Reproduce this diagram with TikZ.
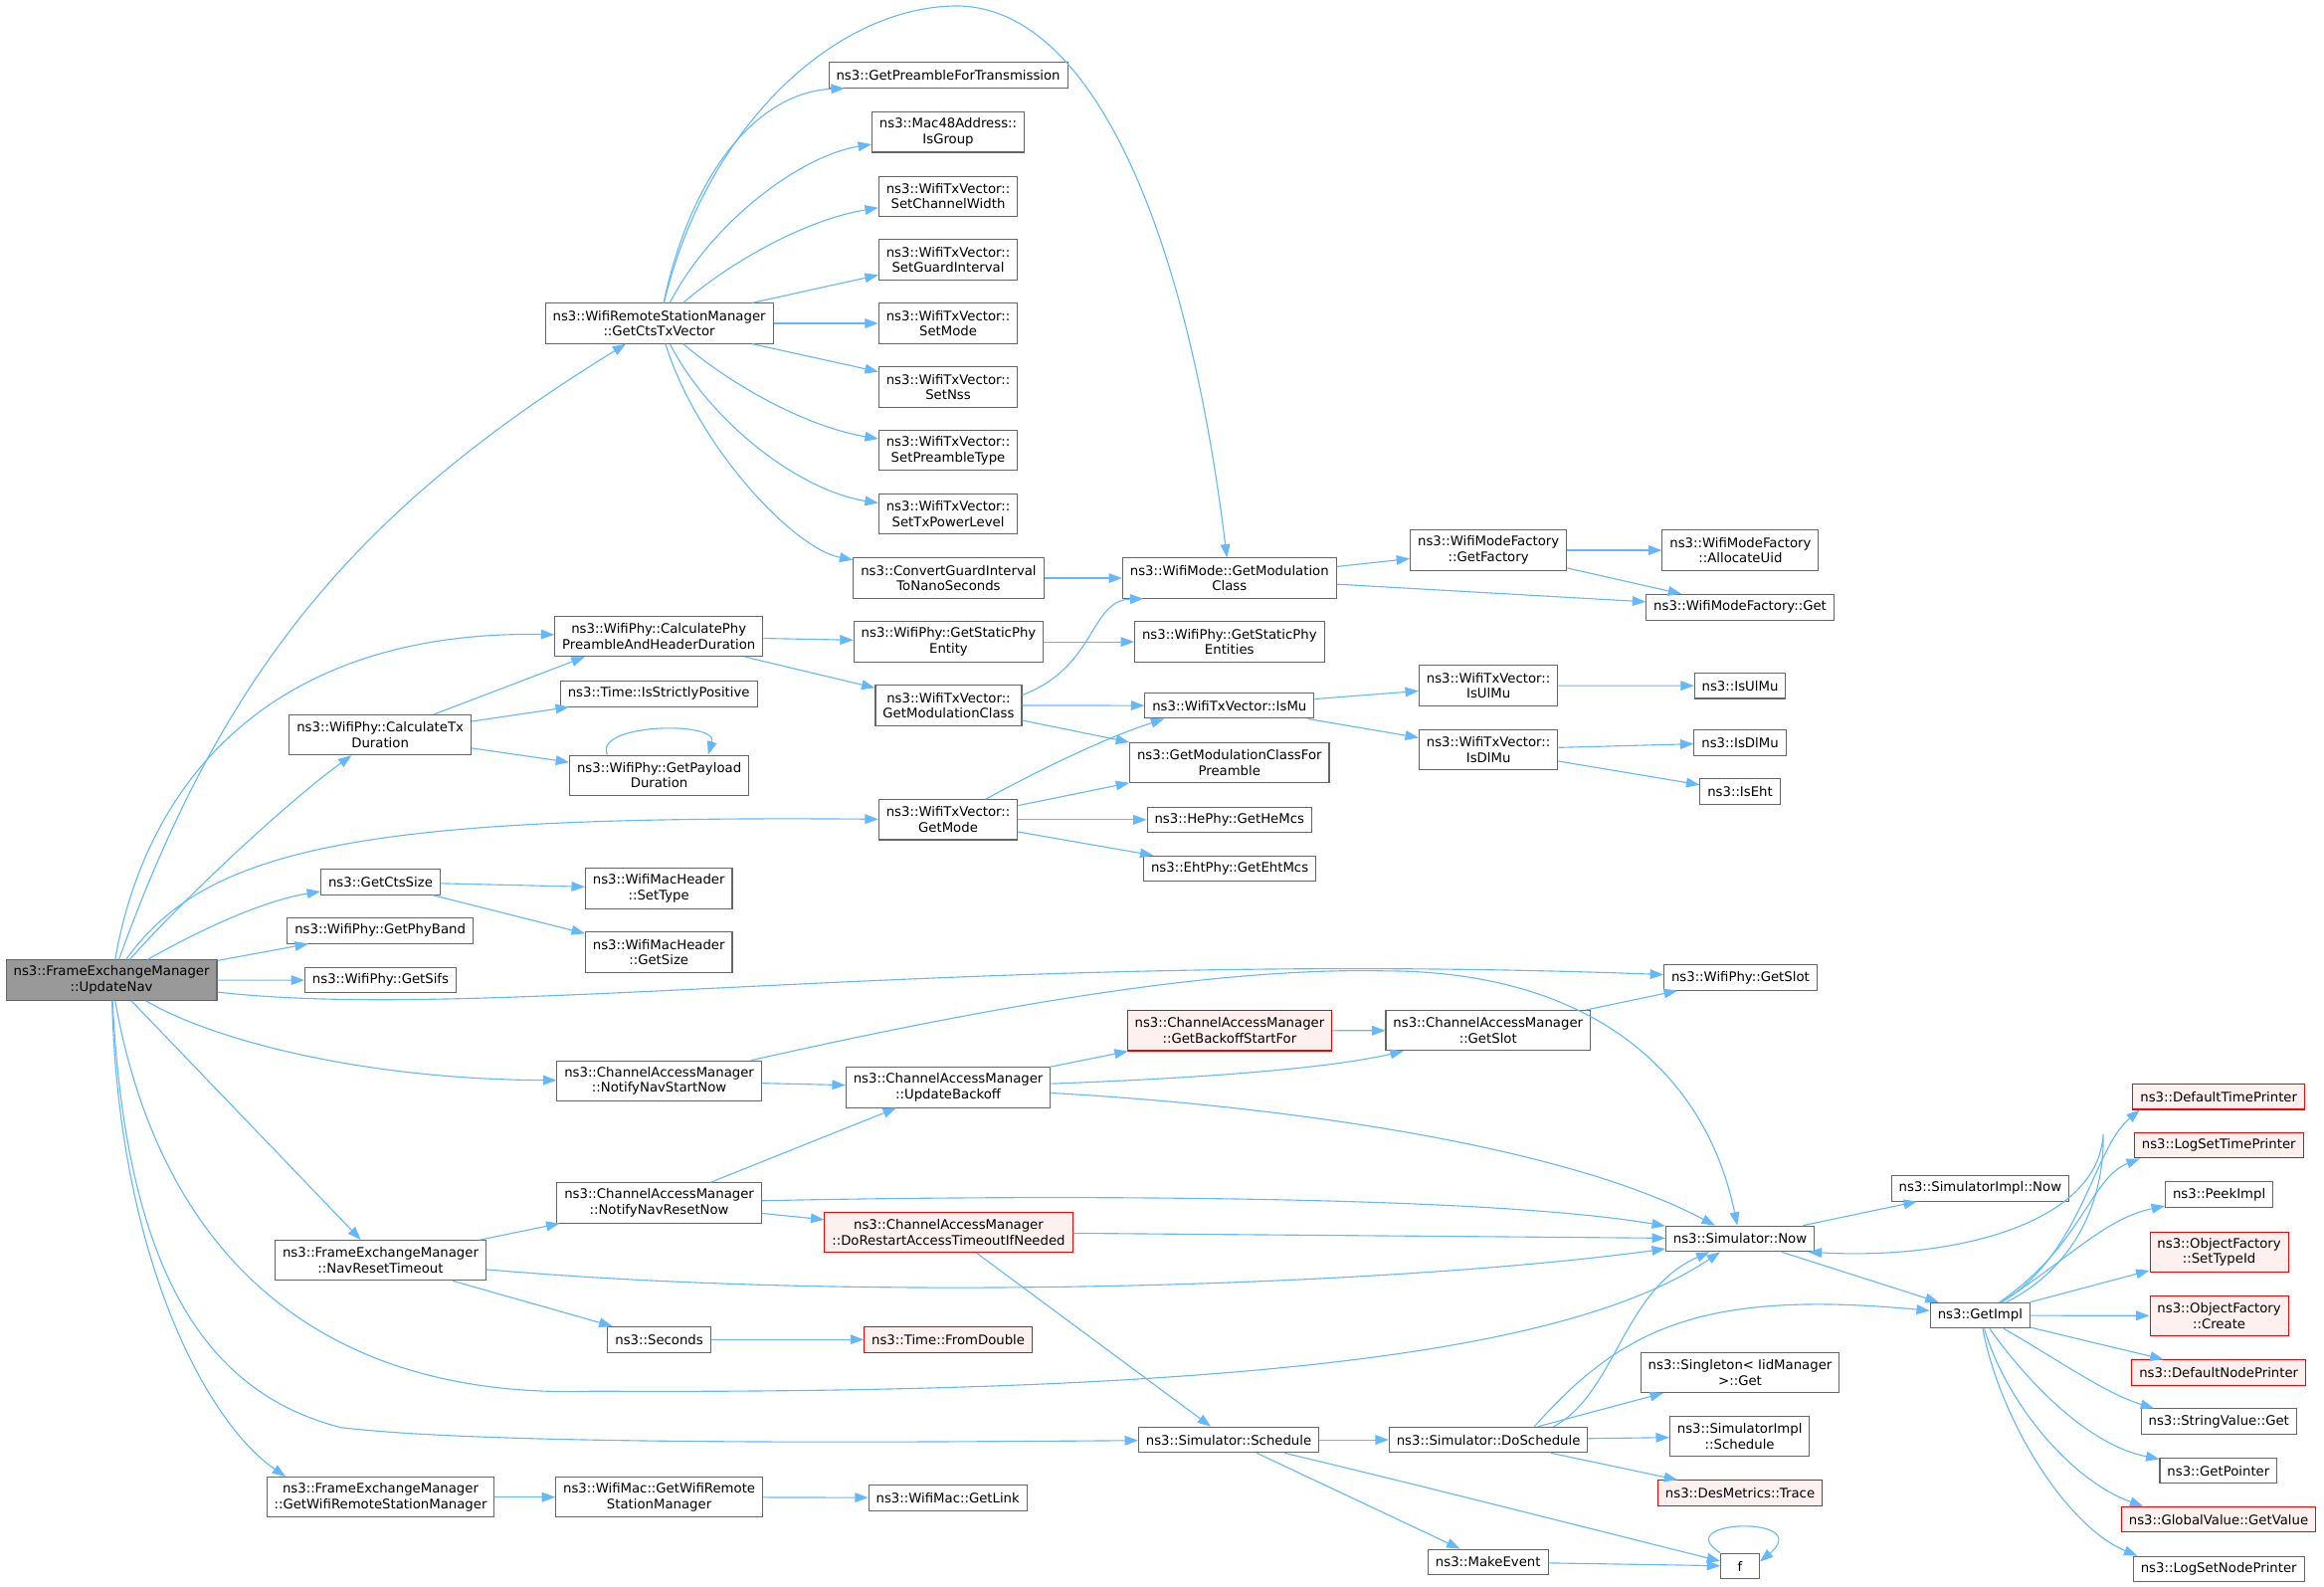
\documentclass[tikz,border=0pt]{standalone}
\usepackage{fontspec}
\setmainfont{DejaVu Sans}
\usepackage{tikz}
\usetikzlibrary{arrows.meta}
\definecolor{edgeblue}{HTML}{63B8FF}
\definecolor{boxgray}{HTML}{666666}
\definecolor{rootfill}{HTML}{999999}
\definecolor{extred}{HTML}{FF0000}
\definecolor{extfill}{HTML}{FFF0F0}

\begin{document}
\begin{tikzpicture}[x=1pt,y=-1pt,font=\fontsize{8.9}{10.5}\selectfont]
			\tikzstyle{FuncStyle} = [shape=rectangle, draw=boxgray, line width=0.7pt, fill=white, align=center, inner xsep=5pt, inner ysep=2pt, minimum height=17.2pt]
			\tikzstyle{TwoLine}   = [minimum height=27pt]
			\tikzstyle{RootStyle} = [FuncStyle, fill=rootfill]
			\tikzstyle{ExtStyle}  = [FuncStyle, draw=extred, fill=extfill]
			\tikzstyle{EdgeStyle} = [->, >={Triangle[length=9pt,width=6.5pt]}, color=edgeblue, line width=0.75pt]
			\useasboundingbox (0,0) rectangle (1568,1070.6);
			% caller
			\node[RootStyle,TwoLine] (un) at (75.25,661.2) {ns3::FrameExchangeManager\\::UpdateNav};
			% second column
			\node[FuncStyle,TwoLine] (ctx) at (256.5,495.75) {ns3::WifiPhy::CalculateTx\\Duration};
			\node[FuncStyle] (gcs) at (256.75,595) {ns3::GetCtsSize};
			\node[FuncStyle] (gpb) at (256.5,627.75) {ns3::WifiPhy::GetPhyBand};
			\node[FuncStyle] (gsf) at (256.75,661.25) {ns3::WifiPhy::GetSifs};
			\node[FuncStyle,TwoLine] (nrt) at (256.75,850.25) {ns3::FrameExchangeManager\\::NavResetTimeout};
			\node[FuncStyle,TwoLine] (gwrsm) at (256.75,1010) {ns3::FrameExchangeManager\\::GetWifiRemoteStationManager};
			% third column
			\node[FuncStyle,TwoLine] (cts) at (444.75,218.15) {ns3::WifiRemoteStationManager\\::GetCtsTxVector};
			\node[FuncStyle,TwoLine] (cpp) at (444.5,429.3) {ns3::WifiPhy::CalculatePhy\\PreambleAndHeaderDuration};
			\node[FuncStyle] (isp) at (444.5,468) {ns3::Time::IsStrictlyPositive};
			\node[FuncStyle,TwoLine] (gpd) at (444.75,523) {ns3::WifiPhy::GetPayload\\Duration};
			\node[FuncStyle,TwoLine] (st) at (444.5,599.4) {ns3::WifiMacHeader\\::SetType};
			\node[FuncStyle,TwoLine] (gsz) at (444.5,642.3) {ns3::WifiMacHeader\\::GetSize};
			\node[FuncStyle,TwoLine] (nns) at (444.75,729.15) {ns3::ChannelAccessManager\\::NotifyNavStartNow};
			\node[FuncStyle,TwoLine] (nnr) at (444.75,811.5) {ns3::ChannelAccessManager\\::NotifyNavResetNow};
			\node[FuncStyle] (sec) at (444.75,903.65) {ns3::Seconds};
			\node[FuncStyle,TwoLine] (mgw) at (444.75,1010) {ns3::WifiMac::GetWifiRemote\\StationManager};
			% fourth column
			\node[FuncStyle] (gpt) at (639.75,50.65) {ns3::GetPreambleForTransmission};
			\node[FuncStyle,TwoLine] (ig) at (639.7,89.2) {ns3::Mac48Address::\\IsGroup};
			\node[FuncStyle,TwoLine] (scw) at (639.7,132.35) {ns3::WifiTxVector::\\SetChannelWidth};
			\node[FuncStyle,TwoLine] (sgi) at (639.7,175.15) {ns3::WifiTxVector::\\SetGuardInterval};
			\node[FuncStyle,TwoLine] (sm) at (639.7,218.15) {ns3::WifiTxVector::\\SetMode};
			\node[FuncStyle,TwoLine] (sn) at (639.7,261.15) {ns3::WifiTxVector::\\SetNss};
			\node[FuncStyle,TwoLine] (spt) at (639.7,303.95) {ns3::WifiTxVector::\\SetPreambleType};
			\node[FuncStyle,TwoLine] (stp) at (639.7,346.75) {ns3::WifiTxVector::\\SetTxPowerLevel};
			\node[FuncStyle,TwoLine] (cgi) at (640,390) {ns3::ConvertGuardInterval\\ToNanoSeconds};
			\node[FuncStyle,TwoLine] (gspe) at (640,433) {ns3::WifiPhy::GetStaticPhy\\Entity};
			\node[FuncStyle,TwoLine] (tgmc) at (640,475.85) {ns3::WifiTxVector::\\GetModulationClass};
			\node[FuncStyle,TwoLine] (gm) at (639.7,553) {ns3::WifiTxVector::\\GetMode};
			\node[FuncStyle,TwoLine] (ub) at (639.75,733.6) {ns3::ChannelAccessManager\\::UpdateBackoff};
			\node[ExtStyle,TwoLine] (dr) at (640,831.25) {ns3::ChannelAccessManager\\::DoRestartAccessTimeoutIfNeeded};
			\node[ExtStyle] (fd) at (639.75,903.65) {ns3::Time::FromDouble};
			\node[FuncStyle] (gl) at (639.5,1010.4) {ns3::WifiMac::GetLink};
			% fifth column
			\node[FuncStyle,TwoLine] (mgmc) at (829.5,390) {ns3::WifiMode::GetModulation\\Class};
			\node[FuncStyle,TwoLine] (gspes) at (829.5,433) {ns3::WifiPhy::GetStaticPhy\\Entities};
			\node[FuncStyle] (imu) at (829.5,476) {ns3::WifiTxVector::IsMu};
			\node[FuncStyle,TwoLine] (gmcp) at (829.5,514.4) {ns3::GetModulationClassFor\\Preamble};
			\node[FuncStyle] (ghe) at (829.5,553) {ns3::HePhy::GetHeMcs};
			\node[FuncStyle] (geht) at (829.7,586) {ns3::EhtPhy::GetEhtMcs};
			\node[ExtStyle,TwoLine] (gbs) at (829.6,695.3) {ns3::ChannelAccessManager\\::GetBackoffStartFor};
			\node[FuncStyle] (sch) at (829,971.3) {ns3::Simulator::Schedule};
			% sixth column
			\node[FuncStyle,TwoLine] (gf) at (1004.25,371.2) {ns3::WifiModeFactory\\::GetFactory};
			\node[FuncStyle,TwoLine] (tiul) at (1004.25,462.5) {ns3::WifiTxVector::\\IsUlMu};
			\node[FuncStyle,TwoLine] (tidl) at (1004.25,505.6) {ns3::WifiTxVector::\\IsDlMu};
			\node[FuncStyle,TwoLine] (cgs) at (1004,695.2) {ns3::ChannelAccessManager\\::GetSlot};
			\node[FuncStyle] (dsch) at (1004.25,971.3) {ns3::Simulator::DoSchedule};
			\node[FuncStyle] (me) at (1004,1053.75) {ns3::MakeEvent};
			% seventh column
			\node[FuncStyle,TwoLine] (au) at (1174.25,371.2) {ns3::WifiModeFactory\\::AllocateUid};
			\node[FuncStyle] (fgt) at (1174,409.6) {ns3::WifiModeFactory::Get};
			\node[FuncStyle] (iul) at (1174,462.6) {ns3::IsUlMu};
			\node[FuncStyle] (idl) at (1174,501) {ns3::IsDlMu};
			\node[FuncStyle] (ie) at (1174,534) {ns3::IsEht};
			\node[FuncStyle] (pgs) at (1174.25,659.4) {ns3::WifiPhy::GetSlot};
			\node[FuncStyle] (now) at (1174,835.65) {ns3::Simulator::Now};
			\node[FuncStyle,TwoLine] (sg) at (1174,925.9) {ns3::Singleton< IidManager\\>::Get};
			\node[FuncStyle,TwoLine] (isch) at (1173.75,969.1) {ns3::SimulatorImpl\\::Schedule};
			\node[ExtStyle] (tr) at (1174,1007.25) {ns3::DesMetrics::Trace};
			\node[FuncStyle,minimum width=26pt] (f) at (1174,1056.5) {f};
			% eighth column
			\node[FuncStyle] (inow) at (1336,801.6) {ns3::SimulatorImpl::Now};
			\node[FuncStyle] (gi) at (1336,887.4) {ns3::GetImpl};
			% last column
			\node[ExtStyle] (dtp) at (1497,739.8) {ns3::DefaultTimePrinter};
			\node[ExtStyle] (lstp) at (1497,772.65) {ns3::LogSetTimePrinter};
			\node[FuncStyle] (pi) at (1497.25,805.9) {ns3::PeekImpl};
			\node[ExtStyle,TwoLine] (sti) at (1497.25,844.6) {ns3::ObjectFactory\\::SetTypeId};
			\node[ExtStyle,TwoLine] (cr) at (1497.25,887.65) {ns3::ObjectFactory\\::Create};
			\node[ExtStyle] (dnp) at (1497,926) {ns3::DefaultNodePrinter};
			\node[FuncStyle] (svg) at (1497,958.95) {ns3::StringValue::Get};
			\node[FuncStyle] (gp) at (1496.75,992.15) {ns3::GetPointer};
			\node[ExtStyle] (gv) at (1496.85,1025) {ns3::GlobalValue::GetValue};
			\node[FuncStyle] (lsnp) at (1497,1058.5) {ns3::LogSetNodePrinter};
			% calls of UpdateNav
			\draw[EdgeStyle] (un) .. controls (151,451) and (242,343) .. (cts);
			\draw[EdgeStyle] (un) .. controls (100,520) and (190,425) .. (cpp);
			\draw[EdgeStyle] (un) .. controls (125,605) and (195,540) .. (ctx);
			\draw[EdgeStyle] (un) .. controls (140,570) and (250,550) .. (gm);
			\draw[EdgeStyle] (un) .. controls (130,630) and (175,608) .. (gcs);
			\draw[EdgeStyle] (un) -- (gpb); \draw[EdgeStyle] (un) -- (gsf);
			\draw[EdgeStyle] (un) .. controls (330,690) and (650,640) .. (pgs);
			\draw[EdgeStyle] (un) .. controls (140,700) and (240,728) .. (nns);
			\draw[EdgeStyle] (un) -- (nrt);
			\draw[EdgeStyle] (un) .. controls (105,830) and (200,945) .. (400,938.5) .. controls (880,941) and (1070,905) .. (now);
			\draw[EdgeStyle] (un) .. controls (85,860) and (140,940) .. (230,963) .. controls (330,975) and (600,973) .. (sch);
			\draw[EdgeStyle] (un) .. controls (80,850) and (140,960) .. ([xshift=-64pt]gwrsm.north);
			% GetCtsTxVector
			\draw[EdgeStyle] (cts) .. controls (468,110) and (515,62) .. ([xshift=-70pt]gpt.south);
			\draw[EdgeStyle] (cts) .. controls (480,150) and (540,105) .. (ig);
			\draw[EdgeStyle] (cts) .. controls (495,175) and (545,148) .. (scw);
			\draw[EdgeStyle] (cts) -- (sgi); \draw[EdgeStyle] (cts) -- (sm); \draw[EdgeStyle] (cts) -- (sn);
			\draw[EdgeStyle] (cts) .. controls (495,261) and (545,288) .. (spt);
			\draw[EdgeStyle] (cts) .. controls (480,286) and (540,331) .. (stp);
			\draw[EdgeStyle] (cts) .. controls (470,300) and (535,370) .. (cgi);
			\draw[EdgeStyle] (cts) .. controls (475,90) and (560,5) .. (645,4) .. controls (735,4) and (800,150) .. (mgmc);
			% second and third column
			\draw[EdgeStyle] (ctx) -- ([xshift=-50pt]cpp.south);
			\draw[EdgeStyle] (ctx) -- (isp); \draw[EdgeStyle] (ctx) -- (gpd);
			\draw[EdgeStyle] ([xshift=-35pt]gpd.north) .. controls (400,488) and (485,486) .. ([xshift=33pt]gpd.north);
			\draw[EdgeStyle] (cpp) -- (gspe); \draw[EdgeStyle] (cpp) -- (tgmc);
			\draw[EdgeStyle] (gcs) -- (st); \draw[EdgeStyle] (gcs) -- (gsz);
			\draw[EdgeStyle] (nns) -- (ub);
			\draw[EdgeStyle] (nns) .. controls (620,690) and (800,652) .. (934,655) .. controls (1070,655) and (1150,720) .. (now);
			\draw[EdgeStyle] (nnr) -- ([xshift=-35pt]ub.south);
			\draw[EdgeStyle] (nnr) -- (dr);
			\draw[EdgeStyle] (nnr) .. controls (700,806) and (1000,806) .. (now);
			\draw[EdgeStyle] (nrt) -- (nnr);
			\draw[EdgeStyle] (nrt) .. controls (600,880) and (950,866) .. (now);
			\draw[EdgeStyle] (nrt) -- (sec); \draw[EdgeStyle] (sec) -- (fd);
			\draw[EdgeStyle] (gwrsm) -- (mgw); \draw[EdgeStyle] (mgw) -- (gl);
			% fourth column
			\draw[EdgeStyle] (cgi) -- (mgmc); \draw[EdgeStyle] (gspe) -- (gspes);
			\draw[EdgeStyle] ([yshift=7pt]tgmc.east) .. controls (740,450) and (735,405) .. ([xshift=-58pt]mgmc.south);
			\draw[EdgeStyle] (tgmc) -- (imu); \draw[EdgeStyle] (tgmc) -- (gmcp);
			\draw[EdgeStyle] (gm) .. controls (700,520) and (745,498) .. ([xshift=-44pt]imu.south);
			\draw[EdgeStyle] (gm) -- (gmcp); \draw[EdgeStyle] (gm) -- (ghe); \draw[EdgeStyle] (gm) -- (geht);
			\draw[EdgeStyle] (ub) -- (gbs);
			\draw[EdgeStyle] (ub) .. controls (820,727) and (900,720) .. ([xshift=-57pt]cgs.south);
			\draw[EdgeStyle] (ub) .. controls (850,745) and (1050,770) .. (now);
			\draw[EdgeStyle] (dr) -- (now); \draw[EdgeStyle] (dr) -- (sch);
			% fifth column
			\draw[EdgeStyle] (mgmc) -- (gf); \draw[EdgeStyle] (mgmc) -- (fgt);
			\draw[EdgeStyle] (imu) -- (tiul); \draw[EdgeStyle] (imu) -- (tidl);
			\draw[EdgeStyle] (gbs) -- (cgs);
			\draw[EdgeStyle] (sch) -- (dsch); \draw[EdgeStyle] (sch) -- (me);
			\draw[EdgeStyle] (sch) .. controls (950,1000) and (1060,1028) .. (f);
			% sixth column
			\draw[EdgeStyle] (gf) -- (au); \draw[EdgeStyle] (gf) -- (fgt);
			\draw[EdgeStyle] (tiul) -- (iul); \draw[EdgeStyle] (tidl) -- (idl); \draw[EdgeStyle] (tidl) -- (ie);
			\draw[EdgeStyle] (cgs) -- (pgs);
			\draw[EdgeStyle] ([xshift=44pt]dsch.north) .. controls (1090,940) and (1095,870) .. (now);
			\draw[EdgeStyle] ([xshift=31pt]dsch.north) .. controls (1095,895) and (1150,870) .. (gi);
			\draw[EdgeStyle] (dsch) -- (sg); \draw[EdgeStyle] (dsch) -- (isch); \draw[EdgeStyle] (dsch) -- (tr);
			\draw[EdgeStyle] (me) -- (f);
			\draw[EdgeStyle] (f.north west) .. controls (1125,1025) and (1225,1022) .. ([yshift=3pt]f.east);
			% Now and GetImpl
			\draw[EdgeStyle] (now) -- (inow); \draw[EdgeStyle] (now) -- (gi);
			\draw[EdgeStyle] (gi) .. controls (1400,855) and (1420,810) .. (1419,765) .. controls (1416,825) and (1320,850) .. ([xshift=46pt]now.south);
			\draw[EdgeStyle] (gi) .. controls (1405,845) and (1412,775) .. ([xshift=5pt]dtp.south west);
			\draw[EdgeStyle] (gi) .. controls (1405,840) and (1410,795) .. ([xshift=4pt]lstp.south west);
			\draw[EdgeStyle] (gi) .. controls (1395,850) and (1420,822) .. (pi);
			\draw[EdgeStyle] (gi) -- (sti); \draw[EdgeStyle] (gi) -- (cr); \draw[EdgeStyle] (gi) -- (dnp);
			\draw[EdgeStyle] (gi) .. controls (1385,915) and (1420,940) .. ([xshift=9pt]svg.north west);
			\draw[EdgeStyle] (gi) .. controls (1370,935) and (1410,975) .. (gp);
			\draw[EdgeStyle] (gi) .. controls (1355,950) and (1400,1000) .. ([xshift=15pt]gv.north west);
			\draw[EdgeStyle] (gi) .. controls (1350,960) and (1395,1030) .. ([xshift=3pt]lsnp.north west);
		\end{tikzpicture}
\end{document}
